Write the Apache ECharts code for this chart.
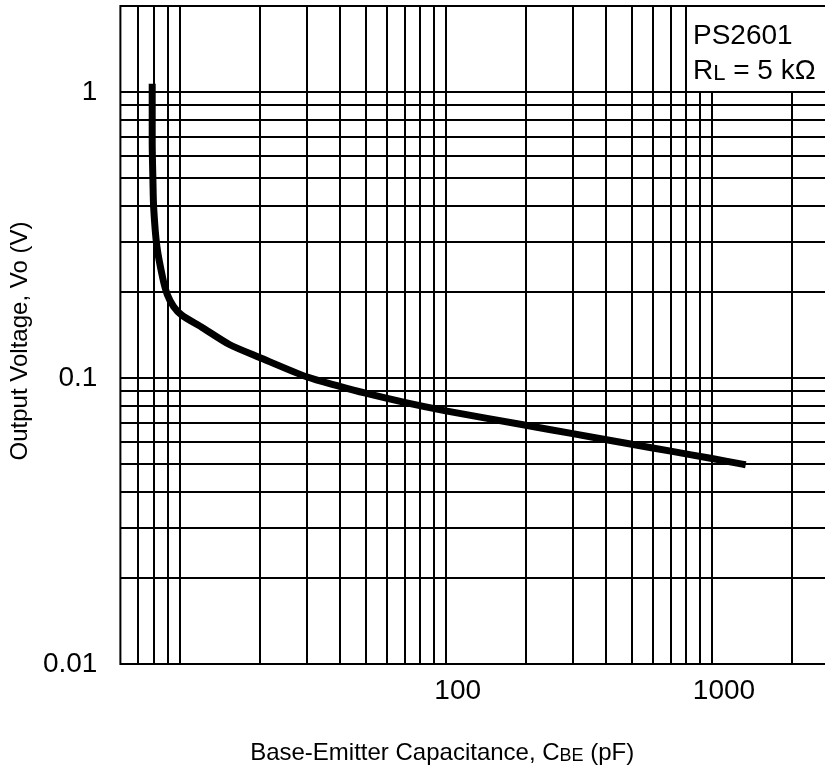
<!DOCTYPE html>
<html>
<head>
<meta charset="utf-8">
<script src="https://cdn.jsdelivr.net/npm/echarts@6/dist/echarts.min.js"></script>
<style>
html,body{margin:0;padding:0;background:#fff;overflow:hidden;width:825px;height:775px;}
#chart{width:839px;height:775px;}
</style>
</head>
<body>
<div id="chart"></div>
<script>
// ---- data ----
const capacitancePF = [7.9, 7.9, 7.95, 8.0, 8.22, 8.65, 9.0, 9.5, 10.2, 12.2, 15.4, 20, 30, 40, 50, 70, 100, 200, 300, 500, 700, 1000, 1300];
const outputVoltageV = [1.04, 0.67, 0.49, 0.395, 0.29, 0.224, 0.196, 0.178, 0.166, 0.15, 0.131, 0.118, 0.101, 0.0935, 0.0885, 0.0822, 0.0768, 0.0684, 0.0639, 0.0587, 0.0555, 0.0523, 0.05];
const xGridValues = [7, 8, 9, 10, 20, 30, 40, 50, 60, 70, 80, 90, 100, 200, 300, 400, 500, 600, 700, 800, 900, 1000, 2000];
const yGridValues = [0.02, 0.03, 0.04, 0.05, 0.06, 0.07, 0.08, 0.09, 0.1, 0.2, 0.3, 0.4, 0.5, 0.6, 0.7, 0.8, 0.9, 1];
const xTickLabels = ['100', '1000'];
const yTickLabels = ['0.01', '0.1', '1'];
const xRange = [6, 3000];
const yRange = [0.01, 2];
const noteBoxLeftX = 800;   // vertical lines right of this stop at the note box
const noteBoxBottomY = 1;
const noteLine1 = 'PS2601';
const noteLine2 = ['R', 'L', ' = 5 kΩ'];
const xTitle = ['Base-Emitter Capacitance, C', 'BE', ' (pF)'];
const yTitle = 'Output Voltage, Vo (V)';

const FONT = '"Liberation Sans", Arial, Helvetica, sans-serif';

const gridLines = [];
xGridValues.forEach(function (v) {
  const top = v > noteBoxLeftX ? noteBoxBottomY : yRange[1];
  gridLines.push([{ coord: [v, yRange[0]] }, { coord: [v, top] }]);
});
yGridValues.forEach(function (v) {
  gridLines.push([{ coord: [xRange[0], v] }, { coord: [xRange[1], v] }]);
});

function fmt(v, list) {
  for (let i = 0; i < list.length; i++) {
    const t = parseFloat(list[i]);
    if (Math.abs(v - t) / t < 1e-6) return list[i];
  }
  return '';
}

const chart = echarts.init(document.getElementById('chart'), null, { renderer: 'canvas' });
chart.setOption({
  animation: false,
  backgroundColor: '#ffffff',
  grid: {
    left: 116, top: 6, right: 0, bottom: 111,
    show: true, borderColor: '#000', borderWidth: 2, backgroundColor: 'transparent',
    containLabel: false
  },
  xAxis: {
    type: 'log', logBase: 10, min: xRange[0], max: xRange[1],
    axisLine: { show: false }, axisTick: { show: false }, splitLine: { show: false },
    axisLabel: {
      show: true, showMinLabel: false, showMaxLabel: false,
      margin: 13, fontSize: 28, color: '#000', fontFamily: FONT,
      padding: [0, 0, 0, 24],
      formatter: function (v) { return fmt(v, xTickLabels); }
    },
    name: '{a|' + xTitle[0] + '}{b|' + xTitle[1] + '}{a|' + xTitle[2] + '}',
    nameLocation: 'middle', nameGap: 77,
    nameTextStyle: {
      color: '#000', fontFamily: FONT, fontSize: 24,
      padding: [0, 75, 0, 0],
      rich: {
        a: { fontSize: 24, lineHeight: 24, verticalAlign: 'bottom', fontFamily: FONT, color: '#000' },
        b: { fontSize: 18, lineHeight: 18, verticalAlign: 'bottom', fontFamily: FONT, color: '#000' }
      }
    }
  },
  yAxis: {
    type: 'log', logBase: 10, min: yRange[0], max: yRange[1],
    axisLine: { show: false }, axisTick: { show: false }, splitLine: { show: false },
    axisLabel: {
      show: true, showMinLabel: true, showMaxLabel: false,
      margin: 23, fontSize: 28, color: '#000', fontFamily: FONT,
      padding: [0, 0, 10, 0],
      formatter: function (v) { return fmt(v, yTickLabels); }
    },
    name: yTitle, nameLocation: 'middle', nameGap: 73,
    nameTextStyle: { color: '#000', fontFamily: FONT, fontSize: 24, padding: [0, 12, 0, 0] }
  },
  graphic: [
    { type: 'text', left: 693, top: 22, z: 100,
      style: { text: noteLine1, font: '28px ' + FONT, fill: '#000' } },
    { type: 'text', left: 693, top: 57, z: 100,
      style: {
        text: '{a|' + noteLine2[0] + '}{b|' + noteLine2[1] + '}{a|' + noteLine2[2] + '}',
        rich: {
          a: { fontSize: 28, lineHeight: 28, verticalAlign: 'bottom', fontFamily: FONT, fill: '#000' },
          b: { fontSize: 22, lineHeight: 22, verticalAlign: 'bottom', fontFamily: FONT, fill: '#000' }
        }
      } }
  ],
  series: [
    {
      name: 'grid', type: 'line', data: [], z: 1, silent: true,
      markLine: {
        silent: true, symbol: ['none', 'none'], animation: false,
        label: { show: false },
        emphasis: { disabled: true },
        lineStyle: { color: '#000', width: 2, type: 'solid' },
        data: gridLines
      }
    },
    {
      name: 'Vo', type: 'line', z: 5, silent: true,
      data: capacitancePF.map(function (c, i) { return [c, outputVoltageV[i]]; }),
      showSymbol: false, symbol: 'none', smooth: 0.25,
      lineStyle: { color: '#000', width: 7, cap: 'square', join: 'round' }
    }
  ]
});
</script>
</body>
</html>
